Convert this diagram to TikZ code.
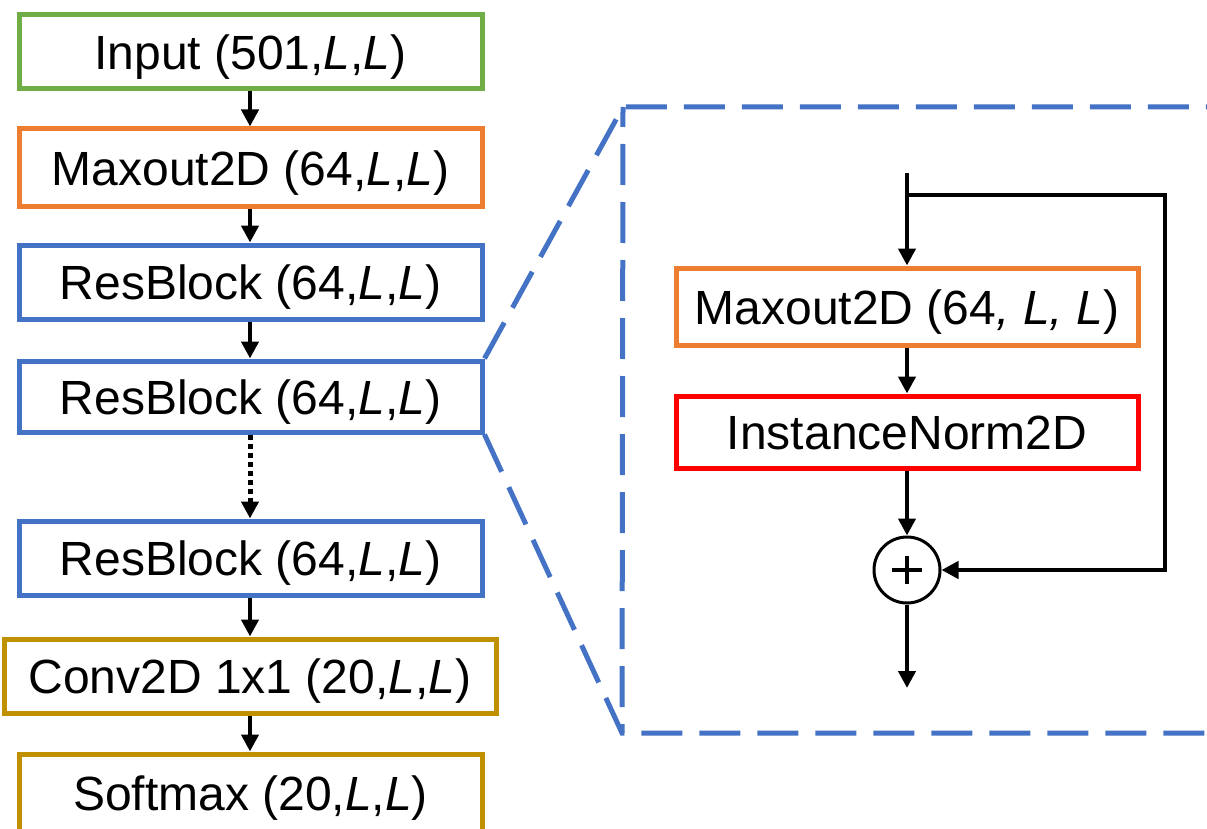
\documentclass[tikz,border=0pt]{standalone}
\usepackage{fontspec}
\setmainfont{Liberation Sans}
\usetikzlibrary{arrows.meta}
\definecolor{cgreen}{HTML}{70AD47}
\definecolor{corange}{HTML}{ED7D31}
\definecolor{cblue}{HTML}{4472C4}
\definecolor{cgold}{HTML}{BF9000}
\definecolor{cred}{HTML}{FF0000}
\begin{document}
\begin{tikzpicture}[x=1pt,y=-1pt,
  box/.style={draw, line width=5pt, fill=white, inner sep=0pt,
    minimum width=463pt, text height=35pt, text depth=0pt,
    font=\fontsize{48}{58}\selectfont},
  rbox/.style={box, minimum width=462pt},
  arr/.style={line width=4.5pt, line join=miter, -{Triangle[width=17pt,length=17pt]}},
  zoomline/.style={draw=cblue, line width=5pt, dash pattern=on 41pt off 17pt, line join=miter}]
\useasboundingbox (0,0) rectangle (1207,829);

% left column
\node[box, draw=cgreen, minimum height=74pt] (inp) at (250.5,52) {Input (501,\textit{L},\textit{L})};
\node[box, draw=corange, minimum height=78pt] (mx) at (250.5,168) {Maxout2D (64,\textit{L},\textit{L})};
\node[box, draw=cblue, minimum height=74pt] (rb1) at (250.5,282) {ResBlock (64,\textit{L},\textit{L})};
\node[box, draw=cblue, minimum height=71pt] (rb2) at (250.5,396.5) {ResBlock (64,\textit{L},\textit{L})};
\node[box, draw=cblue, minimum height=74pt] (rb3) at (250.5,558) {ResBlock (64,\textit{L},\textit{L})};
\node[box, draw=cgold, minimum height=74pt, minimum width=492pt] (conv) at (250,676) {Conv2D 1x1 (20,\textit{L},\textit{L})};
\node[box, draw=cgold, minimum height=78pt] (soft) at (250.5,793) {Softmax (20,\textit{L},\textit{L})};

\draw[arr] (inp.south -| 250,0) -- (mx.north -| 250,0);
\draw[arr] (mx.south -| 250,0) -- (rb1.north -| 250,0);
\draw[arr] (rb1.south -| 250,0) -- (rb2.north -| 250,0);
\draw[arr, line width=5pt, dash pattern=on 5pt off 4pt] (rb2.south -| 250,0) -- (rb3.north -| 250,0);
\draw[arr] (rb3.south -| 250,0) -- (conv.north -| 250,0);
\draw[arr] (conv.south -| 250,0) -- (soft.north -| 250,0);

% zoom lines
\coordinate (tl) at (623,107);
\coordinate (bl) at (622,733);
\coordinate (tr) at (1212,107);
\coordinate (brc) at (1212,733);
\draw[zoomline] (rb2.north east) -- (tl) -- (tr);
\draw[zoomline] (rb2.south east) -- (bl) -- (brc);
\draw[zoomline, dash phase=21pt] (tl) -- (bl);

% right panel
\node[rbox, draw=corange, minimum height=77pt] (mx2) at (907,306.5) {Maxout2D (64\textit{, L, L})};
\node[rbox, draw=cred, minimum height=72pt] (inorm) at (907,432) {InstanceNorm2D};
\node[draw, circle, line width=3pt, minimum size=66pt, inner sep=0pt] (sum) at (907,570) {};
\draw[line width=4pt] (sum.center) +(-15,0) -- +(15,0);
\draw[line width=4pt] (sum.center) +(0,-14) -- +(0,14);

\coordinate (in) at (907,173);
\coordinate (br) at (907,195);
\coordinate (c1) at (1165,195);
\coordinate (c2) at (1165,570);
\coordinate (out) at (907,688);

\draw[arr] (in) -- (mx2.north);
\draw[arr] (mx2.south) -- (inorm.north);
\draw[arr] (inorm.south) -- (sum.north);
\draw[arr] (sum.south) -- (out);
\draw[arr] (br) -- (c1) -- (c2) -- (sum.east);
\end{tikzpicture}
\end{document}
